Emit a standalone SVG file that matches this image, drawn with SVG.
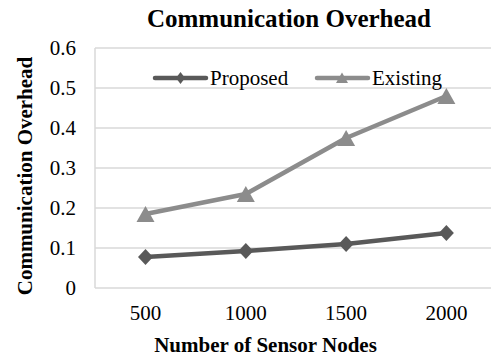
<svg xmlns="http://www.w3.org/2000/svg" width="491" height="360" viewBox="0 0 491 360">
  <style>
    .grid { stroke: #d9d9d9; stroke-width: 1.5; fill: none; }
    .tick { font-family: "Liberation Serif", "Times New Roman", serif; font-size: 21px; fill: #000; }
    .ytick { text-anchor: end; }
    .xtick { text-anchor: middle; }
    .axis-title { font-family: "Liberation Serif", "Times New Roman", serif; font-size: 21px; font-weight: bold; fill: #000; text-anchor: middle; }
    .chart-title { font-family: "Liberation Serif", "Times New Roman", serif; font-size: 25px; font-weight: bold; fill: #000; text-anchor: middle; }
    .legend { font-family: "Liberation Serif", "Times New Roman", serif; font-size: 21px; fill: #000; }
    .proposed { stroke: #595959; stroke-width: 4.5; fill: none; stroke-linejoin: round; stroke-linecap: round; }
    .existing { stroke: #8c8c8c; stroke-width: 4.5; fill: none; stroke-linejoin: round; stroke-linecap: round; }
  </style>
  <defs>
    <path id="diamond" d="M0,-8 L7.5,0 L0,8 L-7.5,0 Z" fill="#595959"/>
    <path id="triangle" d="M0,-8 L9,8 L-9,8 Z" fill="#8c8c8c"/>
    <path id="diamond-s" d="M0,-6 L4.5,0 L0,6 L-4.5,0 Z" fill="#595959"/>
    <path id="triangle-s" d="M0,-5.5 L6,5 L-6,5 Z" fill="#8c8c8c"/>
  </defs>

  <rect width="491" height="360" fill="#ffffff"/>

  <text class="chart-title" x="289" y="27">Communication Overhead</text>

  <!-- plot area grid -->
  <g id="grid">
    <line class="grid" x1="95" y1="48" x2="491" y2="48"/>
    <line class="grid" x1="95" y1="88" x2="491" y2="88"/>
    <line class="grid" x1="95" y1="128" x2="491" y2="128"/>
    <line class="grid" x1="95" y1="168" x2="491" y2="168"/>
    <line class="grid" x1="95" y1="208" x2="491" y2="208"/>
    <line class="grid" x1="95" y1="248" x2="491" y2="248"/>
    <line class="grid" x1="95" y1="288" x2="491" y2="288"/>
    <line class="grid" x1="95" y1="48" x2="95" y2="288"/>
  </g>

  <!-- y axis -->
  <g id="y-axis">
    <text class="tick ytick" x="76" y="55">0.6</text>
    <text class="tick ytick" x="76" y="95">0.5</text>
    <text class="tick ytick" x="76" y="135">0.4</text>
    <text class="tick ytick" x="76" y="175">0.3</text>
    <text class="tick ytick" x="76" y="215">0.2</text>
    <text class="tick ytick" x="76" y="255">0.1</text>
    <text class="tick ytick" x="76" y="295">0</text>
    <text class="axis-title" transform="translate(32,176) rotate(-90)">Communication Overhead</text>
  </g>

  <!-- x axis -->
  <g id="x-axis">
    <text class="tick xtick" x="145.5" y="320">500</text>
    <text class="tick xtick" x="245.8" y="320">1000</text>
    <text class="tick xtick" x="346.1" y="320">1500</text>
    <text class="tick xtick" x="446.4" y="320">2000</text>
    <text class="axis-title" x="265.5" y="352">Number of Sensor Nodes</text>
  </g>

  <!-- data series -->
  <g id="connectors">
    <polyline class="existing" points="145.5,214 245.8,194 346.1,138 446.4,96"/>
    <polyline class="proposed" points="145.5,257 245.8,251 346.1,244 446.4,233"/>
  </g>

  <g id="series-existing">
    <use href="#triangle" x="145.5" y="214"/>
    <use href="#triangle" x="245.8" y="194"/>
    <use href="#triangle" x="346.1" y="138"/>
    <use href="#triangle" x="446.4" y="96"/>
  </g>

  <g id="series-proposed">
    <use href="#diamond" x="145.5" y="257"/>
    <use href="#diamond" x="245.8" y="251"/>
    <use href="#diamond" x="346.1" y="244"/>
    <use href="#diamond" x="446.4" y="233"/>
  </g>

  <!-- legend -->
  <g id="legend">
    <line class="proposed" x1="155" y1="78" x2="206" y2="78"/>
    <use href="#diamond-s" x="180.5" y="78"/>
    <text class="legend" x="210" y="85">Proposed</text>
    <line class="existing" x1="317" y1="78" x2="368" y2="78"/>
    <use href="#triangle-s" x="342" y="78"/>
    <text class="legend" x="372" y="85">Existing</text>
  </g>
</svg>
